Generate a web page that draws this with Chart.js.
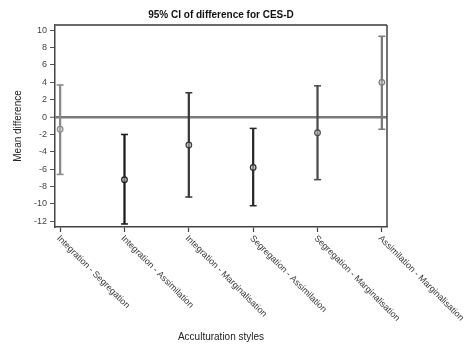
<!DOCTYPE html>
<html>
<head>
<meta charset="utf-8">
<script src="https://cdn.jsdelivr.net/npm/chart.js@4"></script>
<style>
html,body{margin:0;padding:0;background:#fff;}
#wrap{width:474px;height:353px;}
</style>
</head>
<body>
<div id="wrap"><canvas id="c" width="474" height="353"></canvas></div>
<script>
const categories = ["Integration - Segregation","Integration - Assimilation","Integration - Marginalisation","Segregation - Assimilation","Segregation - Marginalisation","Assimilation - Marginalisation"];
const means = [-1.4, -7.2, -3.2, -5.8, -1.8, 4.0];
const upper = [3.7, -2.0, 2.8, -1.3, 3.6, 9.3];
const lower = [-6.6, -12.3, -9.2, -10.2, -7.2, -1.4];
const yTicks = [-12,-10,-8,-6,-4,-2,0,2,4,6,8,10];
const barColors = ["#8a8a8a","#1a1a1a","#383838","#2a2a2a","#4a4a4a","#7a7a7a"];

const idx = categories.map((c,i)=>i);

const frame = {
  id:'frame',
  afterDraw(chart){
    const {ctx, chartArea:a} = chart;
    ctx.save();
    ctx.strokeStyle = '#6a6a6a';
    ctx.lineWidth = 2;
    ctx.beginPath(); ctx.moveTo(a.left, a.top); ctx.lineTo(a.right, a.top); ctx.stroke();
    ctx.strokeStyle = '#444';
    ctx.lineWidth = 1.5;
    ctx.beginPath(); ctx.moveTo(a.right, a.top); ctx.lineTo(a.right, a.bottom); ctx.stroke();
    // rotated category labels
    const xs = chart.scales.x;
    ctx.fillStyle = '#3a3a3a';
    ctx.font = '9px Arial, "Liberation Sans", sans-serif';
    ctx.textAlign = 'left';
    ctx.textBaseline = 'middle';
    categories.forEach((lab,i)=>{
      const px = xs.getPixelForValue(i);
      ctx.save();
      ctx.translate(px-2, a.bottom + 10);
      ctx.rotate(Math.PI/4);
      ctx.fillText(lab, 0, 0);
      ctx.restore();
    });
    ctx.restore();
  }
};

new Chart(document.getElementById('c'), {
  type:'bar',
  data:{
    datasets:[
      {
        type:'scatter',
        data: idx.map(i=>({x:i,y:means[i]})),
        pointStyle:'circle', pointRadius:2.8, pointHoverRadius:2.8,
        pointBorderWidth:1.2,
        pointBorderColor: barColors,
        pointBackgroundColor:'rgba(200,200,200,0.5)',
        order:0
      },
      {
        type:'scatter',
        data: idx.map(i=>({x:i,y:upper[i]})),
        pointStyle:'line', pointRadius:3.5, pointHoverRadius:3.5,
        pointBorderWidth:1.5,
        pointBorderColor: barColors,
        order:1
      },
      {
        type:'scatter',
        data: idx.map(i=>({x:i,y:lower[i]})),
        pointStyle:'line', pointRadius:3.5, pointHoverRadius:3.5,
        pointBorderWidth:1.5,
        pointBorderColor: barColors,
        order:2
      },
      {
        type:'bar',
        data: idx.map(i=>({x:i,y:[lower[i],upper[i]]})),
        backgroundColor: barColors,
        borderWidth:0,
        barThickness:1.6,
        order:3
      }
    ]
  },
  options:{
    responsive:false,
    animation:false,
    layout:{padding:{left:0,right:87,top:0,bottom:10}},
    plugins:{
      legend:{display:false},
      tooltip:{enabled:false},
      title:{
        display:true,
        text:'95% CI of difference for CES-D',
        fullSize:false,
        color:'#111',
        font:{family:'Arial, "Liberation Sans", sans-serif', size:10, weight:'bold'},
        padding:{top:9,bottom:4}
      }
    },
    scales:{
      x:{
        type:'linear',
        offset:false,
        min:-0.08, max:5.08,
        afterBuildTicks(s){ s.ticks = idx.map(v=>({value:v})); },
        ticks:{display:false},
        grid:{display:true, offset:false, drawOnChartArea:false, drawTicks:true, tickLength:5, tickColor:'#444', tickWidth:1.2},
        border:{display:true, color:'#444', width:1.5},
        title:{
          display:true, text:'Acculturation styles', color:'#222',
          font:{family:'Arial, "Liberation Sans", sans-serif', size:10},
          padding:{top:99,bottom:0}
        }
      },
      y:{
        min:-12.65, max:10.6,
        afterBuildTicks(s){ s.ticks = yTicks.map(v=>({value:v})); },
        afterFit(s){ s.width = 55; },
        ticks:{color:'#444', padding:3, font:{family:'Arial, "Liberation Sans", sans-serif', size:9}},
        grid:{
          display:true, drawTicks:true, tickLength:5, tickColor:'#555', tickWidth:1,
          color:(c)=> (c.tick && c.tick.value===0) ? '#7a7a7a' : 'rgba(0,0,0,0)',
          lineWidth:(c)=> (c.tick && c.tick.value===0) ? 2.5 : 1
        },
        border:{display:true, color:'#444', width:1.5},
        title:{
          display:true, text:'Mean difference', color:'#222',
          font:{family:'Arial, "Liberation Sans", sans-serif', size:10},
          padding:{top:12,bottom:0}
        }
      }
    }
  },
  plugins:[frame]
});
</script>
</body>
</html>
